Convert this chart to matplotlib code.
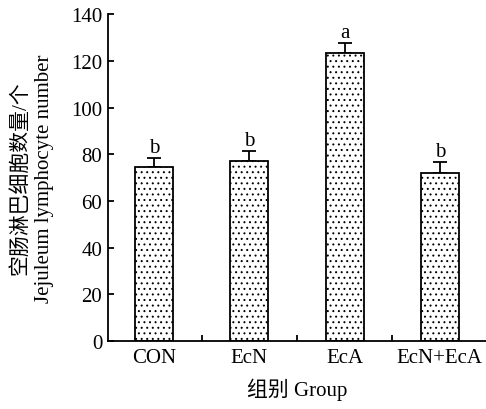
import matplotlib
matplotlib.use("Agg")
import matplotlib.pyplot as plt
import numpy as np

plt.rcParams['font.family'] = ['Liberation Serif', 'Noto Sans CJK SC']
plt.rcParams['hatch.linewidth'] = 0.7

groups = ["CON", "EcN", "EcA", "EcN+EcA"]
values = [74.5, 77.2, 123.2, 72.0]
errors = [3.8, 4.1, 4.4, 4.5]
letters = ["b", "b", "a", "b"]

fig = plt.figure(figsize=(4.86, 4.10), dpi=100)
ax = fig.add_axes([0.222, 0.166, 0.778, 0.797])

x = np.arange(len(groups))
ax.bar(x, values, width=0.4, facecolor="white", edgecolor="black",
       linewidth=1.3, hatch="...", zorder=2)
ax.errorbar(x, values, yerr=[np.zeros(len(errors)), errors], fmt="none",
            ecolor="black", elinewidth=1.3, capsize=5, capthick=1.3, zorder=1)

for xi, v, e, l in zip(x, values, errors, letters):
    ax.text(xi, v + e + 0.6, l, ha="center", va="bottom", fontsize=15)

ax.set_xlim(-0.485, 3.485)
ax.set_ylim(0, 140)
ax.set_yticks(np.arange(0, 141, 20))
ax.set_xticks(x)
ax.set_xticklabels(groups)
ax.set_xticks([0.5, 1.5, 2.5], minor=True)

ax.tick_params(axis="y", direction="in", length=4, width=1.3, labelsize=15, pad=4)
ax.tick_params(axis="x", which="major", length=0, labelsize=15, pad=5)
ax.tick_params(axis="x", which="minor", direction="in", length=4, width=1.3)

for s in ["top", "right"]:
    ax.spines[s].set_visible(False)
for s in ["left", "bottom"]:
    ax.spines[s].set_linewidth(1.3)

ax.set_ylabel("空肠淋巴细胞数量/个\nJejuleum lymphocyte number", fontsize=15,
              labelpad=12, linespacing=1.35)
ax.set_xlabel("组别 Group", fontsize=15, labelpad=8)

fig.savefig("out.png", dpi=100)
